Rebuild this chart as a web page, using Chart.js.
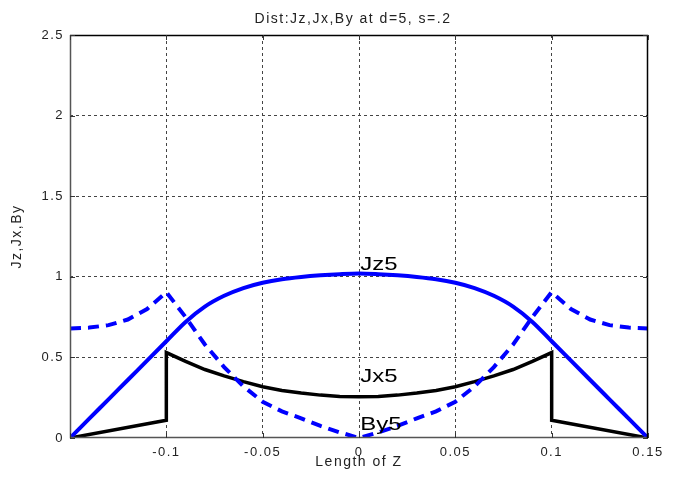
<!DOCTYPE html>
<html>
<head>
<meta charset="utf-8">
<script src="https://cdn.jsdelivr.net/npm/chart.js@4/dist/chart.umd.min.js"></script>
<style>
  html, body { margin: 0; padding: 0; background: #fff; }
  #wrap { width: 676px; height: 481px; }
</style>
</head>
<body>
<div id="wrap"><canvas id="distChart"></canvas></div>
<script>
// Length of Z positions (shared by Jz5 and By5)
const zPos = [-0.15, -0.14, -0.13, -0.12, -0.11, -0.10, -0.09, -0.08, -0.07, -0.06,
              -0.05, -0.04, -0.03, -0.02, -0.01, 0.00, 0.01, 0.02, 0.03, 0.04,
              0.05, 0.06, 0.07, 0.08, 0.09, 0.10, 0.11, 0.12, 0.13, 0.14, 0.15];
const jz5 = [0.00, 0.12, 0.24, 0.36, 0.48, 0.60, 0.72, 0.815, 0.882, 0.93,
             0.963, 0.985, 0.999, 1.009, 1.016, 1.02, 1.016, 1.009, 0.999, 0.985,
             0.963, 0.93, 0.882, 0.815, 0.72, 0.60, 0.48, 0.36, 0.24, 0.12, 0.00];
const by5 = [0.68, 0.685, 0.70, 0.735, 0.80, 0.905, 0.75, 0.58, 0.44, 0.32,
             0.225, 0.165, 0.122, 0.075, 0.035, 0.00, 0.035, 0.075, 0.122, 0.165,
             0.225, 0.32, 0.44, 0.58, 0.75, 0.905, 0.80, 0.735, 0.70, 0.685, 0.68];
// Jx5 has a jump at +-0.1, so two points share that z
const jxPos = [-0.15, -0.10, -0.10, -0.09, -0.08, -0.07, -0.06, -0.05, -0.04, -0.03,
               -0.02, -0.01, 0.00, 0.01, 0.02, 0.03, 0.04, 0.05, 0.06, 0.07,
               0.08, 0.09, 0.10, 0.10, 0.15];
const jx5 = [0.00, 0.11, 0.53, 0.475, 0.425, 0.385, 0.35, 0.318, 0.295, 0.279,
             0.266, 0.258, 0.256, 0.258, 0.266, 0.279, 0.295, 0.318, 0.35, 0.385,
             0.425, 0.475, 0.53, 0.11, 0.00];

const xTicks = [-0.15, -0.1, -0.05, 0, 0.05, 0.1, 0.15];
const xTickLabels = ['', '-0.1', '-0.05', '0', '0.05', '0.1', '0.15'];
const yTicks = [0, 0.5, 1, 1.5, 2, 2.5];
const yTickLabels = ['0', '0.5', '1', '1.5', '2', '2.5'];

const curveLabels = ['Jz5', 'Jx5', 'By5'];
const curveLabelX = [0.0007, 0.0007, 0.0007];
const curveLabelY = [1.045, 0.35, 0.05];

const FONT = 'Arial, "Liberation Sans", sans-serif';
const TEXT = '#222';

function toPoints(xs, ys) {
    return xs.map((x, i) => ({ x: x, y: ys[i] }));
}

// the old figure's text is rendered quite wide, so spread the letters a little
const wideText = {
    id: 'wideText',
    beforeDraw(chart) {
        chart.ctx.letterSpacing = '1.5px';
    }
};

// box, inward tick marks, title and curve labels, MATLAB style
const matlabDecor = {
    id: 'matlabDecor',
    afterDraw(chart) {
        const ctx = chart.ctx;
        const a = chart.chartArea;
        const xs = chart.scales.x, ys = chart.scales.y;
        ctx.save();
        ctx.setLineDash([]);
        ctx.lineWidth = 1.5;
        // axis lines (grey) and box lines (black)
        ctx.strokeStyle = '#555';
        ctx.beginPath();
        ctx.moveTo(a.left + 0.5, a.top);
        ctx.lineTo(a.left + 0.5, a.bottom - 0.5);
        ctx.lineTo(a.right, a.bottom - 0.5);
        ctx.stroke();
        ctx.strokeStyle = '#000';
        ctx.beginPath();
        ctx.moveTo(a.left, a.top + 0.5);
        ctx.lineTo(a.right - 0.5, a.top + 0.5);
        ctx.lineTo(a.right - 0.5, a.bottom);
        ctx.stroke();

        ctx.lineWidth = 1;
        ctx.strokeStyle = '#333';
        ctx.beginPath();
        xTicks.forEach(v => {
            const px = Math.round(xs.getPixelForValue(v)) + 0.5;
            ctx.moveTo(px, a.bottom); ctx.lineTo(px, a.bottom - 5);
            ctx.moveTo(px, a.top); ctx.lineTo(px, a.top + 5);
        });
        yTicks.forEach(v => {
            const py = Math.round(ys.getPixelForValue(v)) + 0.5;
            ctx.moveTo(a.left, py); ctx.lineTo(a.left + 5, py);
            ctx.moveTo(a.right, py); ctx.lineTo(a.right - 5, py);
        });
        ctx.stroke();

        ctx.fillStyle = TEXT;
        ctx.font = '14px ' + FONT;
        ctx.letterSpacing = '1.5px';
        ctx.textAlign = 'center';
        ctx.textBaseline = 'alphabetic';
        ctx.fillText('Dist:Jz,Jx,By at d=5, s=.2', (a.left + a.right) / 2 - 6, 23);

        // curve labels: wide glyphs, as in the original
        ctx.fillStyle = '#000';
        ctx.font = '18px ' + FONT;
        ctx.letterSpacing = '0px';
        ctx.textAlign = 'left';
        curveLabels.forEach((t, i) => {
            const px = xs.getPixelForValue(curveLabelX[i]);
            const py = ys.getPixelForValue(curveLabelY[i]);
            ctx.save();
            ctx.translate(px, py);
            ctx.scale(1.33, 1);
            ctx.fillText(t, 0, 0);
            ctx.restore();
        });
        ctx.restore();
    }
};

const ctx = document.getElementById('distChart').getContext('2d');
new Chart(ctx, {
    type: 'scatter',
    data: {
        datasets: [
            {
                label: 'Jz5',
                data: toPoints(zPos, jz5),
                showLine: true,
                borderColor: '#0000ff',
                borderWidth: 4,
                pointRadius: 0,
                cubicInterpolationMode: 'monotone'
            },
            {
                label: 'By5',
                data: toPoints(zPos, by5),
                showLine: true,
                borderColor: '#0000ff',
                borderWidth: 4,
                borderDash: [11, 7],
                pointRadius: 0,
                tension: 0
            },
            {
                label: 'Jx5',
                data: toPoints(jxPos, jx5),
                showLine: true,
                borderColor: '#000000',
                borderWidth: 3.5,
                pointRadius: 0,
                tension: 0
            }
        ]
    },
    options: {
        responsive: true,
        maintainAspectRatio: false,
        animation: false,
        layout: { padding: { top: 35, right: 28, bottom: 0, left: 0 } },
        plugins: {
            legend: { display: false },
            tooltip: { enabled: false }
        },
        scales: {
            x: {
                type: 'linear',
                min: -0.15,
                max: 0.15,
                afterBuildTicks: scale => { scale.ticks = xTicks.map(v => ({ value: v })); },
                afterFit: scale => { scale.height = 43; },
                ticks: {
                    color: TEXT,
                    font: { family: FONT, size: 13 },
                    padding: 7,
                    maxRotation: 0,
                    autoSkip: false,
                    callback: (v, i) => xTickLabels[i]
                },
                grid: {
                    drawTicks: false,
                    color: c => (c.tick && (c.tick.value === -0.15 || c.tick.value === 0.15)) ? 'rgba(0,0,0,0)' : '#444',
                    lineWidth: 1
                },
                border: { display: false, dash: [3, 3] },
                title: {
                    display: true,
                    text: 'Length of Z',
                    color: TEXT,
                    font: { family: FONT, size: 14 },
                    padding: { top: 0, bottom: 10 }
                }
            },
            y: {
                type: 'linear',
                min: 0,
                max: 2.5,
                afterBuildTicks: scale => { scale.ticks = yTicks.map(v => ({ value: v })); },
                afterFit: scale => { scale.width = 70; },
                ticks: {
                    color: TEXT,
                    font: { family: FONT, size: 13 },
                    padding: 6,
                    callback: (v, i) => yTickLabels[i]
                },
                grid: {
                    drawTicks: false,
                    color: c => (c.tick && (c.tick.value === 0 || c.tick.value === 2.5)) ? 'rgba(0,0,0,0)' : '#444',
                    lineWidth: 1
                },
                border: { display: false, dash: [3, 3] },
                title: {
                    display: true,
                    text: 'Jz,Jx,By',
                    color: TEXT,
                    font: { family: FONT, size: 14 },
                    padding: { top: 9, bottom: 4 }
                }
            }
        }
    },
    plugins: [wideText, matlabDecor]
});
</script>
</body>
</html>
